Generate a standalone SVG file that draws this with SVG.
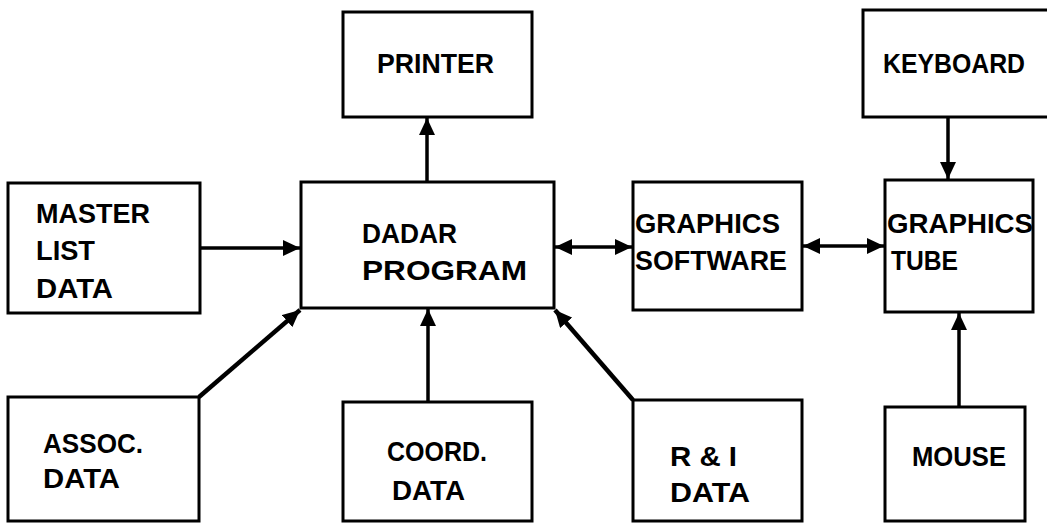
<svg xmlns="http://www.w3.org/2000/svg" width="1047" height="524" viewBox="0 0 1047 524">
<style>
.box{fill:#fff;stroke:#000;stroke-width:3}
.t{font-family:"Liberation Sans",Arial,sans-serif;font-size:28px;font-weight:bold;fill:#000}
.c{stroke:#000;stroke-width:3.5;fill:none}
.d{stroke:#000;stroke-width:4.5;fill:none}
</style>
<defs>
<marker id="ah" markerUnits="userSpaceOnUse" markerWidth="18" markerHeight="16" refX="17" refY="8" orient="auto">
<path d="M0,0 L17,8 L0,16 Z" fill="#000"/>
</marker>
<marker id="as" markerUnits="userSpaceOnUse" markerWidth="18" markerHeight="16" refX="17" refY="8" orient="auto-start-reverse">
<path d="M0,0 L17,8 L0,16 Z" fill="#000"/>
</marker>
</defs>
<rect width="1047" height="524" fill="#fff"/>
<g id="connectors">
<line class="c" x1="427" y1="182" x2="427" y2="118" marker-end="url(#ah)"/>
<line class="c" x1="200" y1="248" x2="300" y2="248" marker-end="url(#ah)"/>
<line class="c" x1="555" y1="247" x2="632" y2="247" marker-start="url(#as)" marker-end="url(#ah)"/>
<line class="c" x1="803" y1="246" x2="884" y2="246" marker-start="url(#as)" marker-end="url(#ah)"/>
<line class="c" x1="948" y1="117" x2="948" y2="179" marker-end="url(#ah)"/>
<line class="c" x1="959" y1="407" x2="959" y2="313" marker-end="url(#ah)"/>
<line class="d" x1="199" y1="397" x2="300" y2="310" marker-end="url(#ah)"/>
<line class="c" x1="428" y1="402" x2="428" y2="309" marker-end="url(#ah)"/>
<line class="d" x1="633" y1="400" x2="555" y2="310" marker-end="url(#ah)"/>
</g>
<g id="printer"><rect class="box" x="343" y="12" width="189" height="105"/><text class="t" x="377" y="73" textLength="117" lengthAdjust="spacingAndGlyphs">PRINTER</text></g>
<g id="keyboard"><rect class="box" x="863" y="10" width="195" height="107"/><text class="t" x="883" y="73" textLength="142" lengthAdjust="spacingAndGlyphs">KEYBOARD</text></g>
<g id="master"><rect class="box" x="8" y="183" width="192" height="130"/>
<text class="t" x="36" y="223" textLength="114" lengthAdjust="spacingAndGlyphs">MASTER</text>
<text class="t" x="36" y="260" textLength="59" lengthAdjust="spacingAndGlyphs">LIST</text>
<text class="t" x="36" y="298" textLength="77" lengthAdjust="spacingAndGlyphs">DATA</text></g>
<g id="dadar"><rect class="box" x="301" y="182" width="253" height="126"/>
<text class="t" x="362" y="243" textLength="95" lengthAdjust="spacingAndGlyphs">DADAR</text>
<text class="t" x="362" y="280" textLength="165" lengthAdjust="spacingAndGlyphs">PROGRAM</text></g>
<g id="gsoftware"><rect class="box" x="633" y="182" width="169" height="128"/>
<text class="t" x="635" y="233" textLength="145" lengthAdjust="spacingAndGlyphs">GRAPHICS</text>
<text class="t" x="635" y="270" textLength="152" lengthAdjust="spacingAndGlyphs">SOFTWARE</text></g>
<g id="gtube"><rect class="box" x="885" y="180" width="148" height="132"/>
<text class="t" x="887" y="233" textLength="146" lengthAdjust="spacingAndGlyphs">GRAPHICS</text>
<text class="t" x="891" y="270" textLength="67" lengthAdjust="spacingAndGlyphs">TUBE</text></g>
<g id="assoc"><rect class="box" x="8" y="397" width="191" height="124"/>
<text class="t" x="43" y="453" textLength="100" lengthAdjust="spacingAndGlyphs">ASSOC.</text>
<text class="t" x="43" y="488" textLength="77" lengthAdjust="spacingAndGlyphs">DATA</text></g>
<g id="coord"><rect class="box" x="343" y="402" width="189" height="119"/>
<text class="t" x="387" y="461" textLength="100" lengthAdjust="spacingAndGlyphs">COORD.</text>
<text class="t" x="392" y="500" textLength="73" lengthAdjust="spacingAndGlyphs">DATA</text></g>
<g id="ri"><rect class="box" x="633" y="400" width="169" height="121"/>
<text class="t" x="670" y="466" textLength="67" lengthAdjust="spacingAndGlyphs">R &amp; I</text>
<text class="t" x="670" y="502" textLength="80" lengthAdjust="spacingAndGlyphs">DATA</text></g>
<g id="mouse"><rect class="box" x="885" y="407" width="140" height="114"/>
<text class="t" x="912" y="466" textLength="94" lengthAdjust="spacingAndGlyphs">MOUSE</text></g>
</svg>
